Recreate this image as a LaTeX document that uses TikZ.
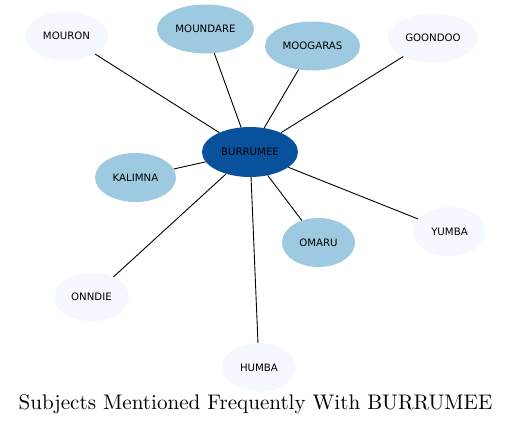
\documentclass[tikz,border=0pt]{standalone}
\usepackage{fontspec}
\newfontfamily\nodefont{DejaVu Sans}
\newfontfamily\titlefont{lmroman10-regular}[Extension=.otf]
\usetikzlibrary{shapes.geometric}
\definecolor{cdark}{HTML}{08519C}
\definecolor{cmid}{HTML}{9ECAE1}
\definecolor{clight}{HTML}{F5F9FF}
\tikzset{
  ent/.style={ellipse, inner sep=0pt, minimum height=49pt, font=\nodefont\fontsize{10.2}{12}\selectfont, text=black},
  hub/.style={ent, fill=cdark, minimum width=96pt, minimum height=50pt},
  midn/.style={ent, fill=cmid},
  lown/.style={ent, fill=clight},
  link/.style={draw=black, line width=0.9pt}
}
\begin{document}
\begin{tikzpicture}[x=1pt,y=-1pt]
\useasboundingbox (0,0) rectangle (512,426);
\node[hub] (b) at (250,152) {BURRUMEE};
\node[lown, minimum width=83pt] (mouron) at (66.5,36) {MOURON};
\node[midn, minimum width=97pt] (moundare) at (205.5,29) {MOUNDARE};
\node[midn, minimum width=95pt] (moogaras) at (312.5,46) {MOOGARAS};
\node[lown, minimum width=90pt] (goondoo) at (433,38) {GOONDOO};
\node[midn, minimum width=81pt] (kalimna) at (135.5,177.5) {KALIMNA};
\node[midn, minimum width=73pt] (omaru) at (318.5,242.5) {OMARU};
\node[lown, minimum width=73pt] (yumba) at (449.5,231.5) {YUMBA};
\node[lown, minimum width=75pt] (onndie) at (91.5,297) {ONNDIE};
\node[lown, minimum width=74pt] (humba) at (259,367.5) {HUMBA};
\foreach \n in {mouron,moundare,moogaras,goondoo,kalimna,omaru,yumba,onndie,humba}
  \draw[link] (b) -- (\n);
\node[font=\titlefont\fontsize{21.1}{24}\selectfont, anchor=center] (title) at (255.5,404) {Subjects Mentioned Frequently With BURRUMEE};
\end{tikzpicture}
\end{document}
